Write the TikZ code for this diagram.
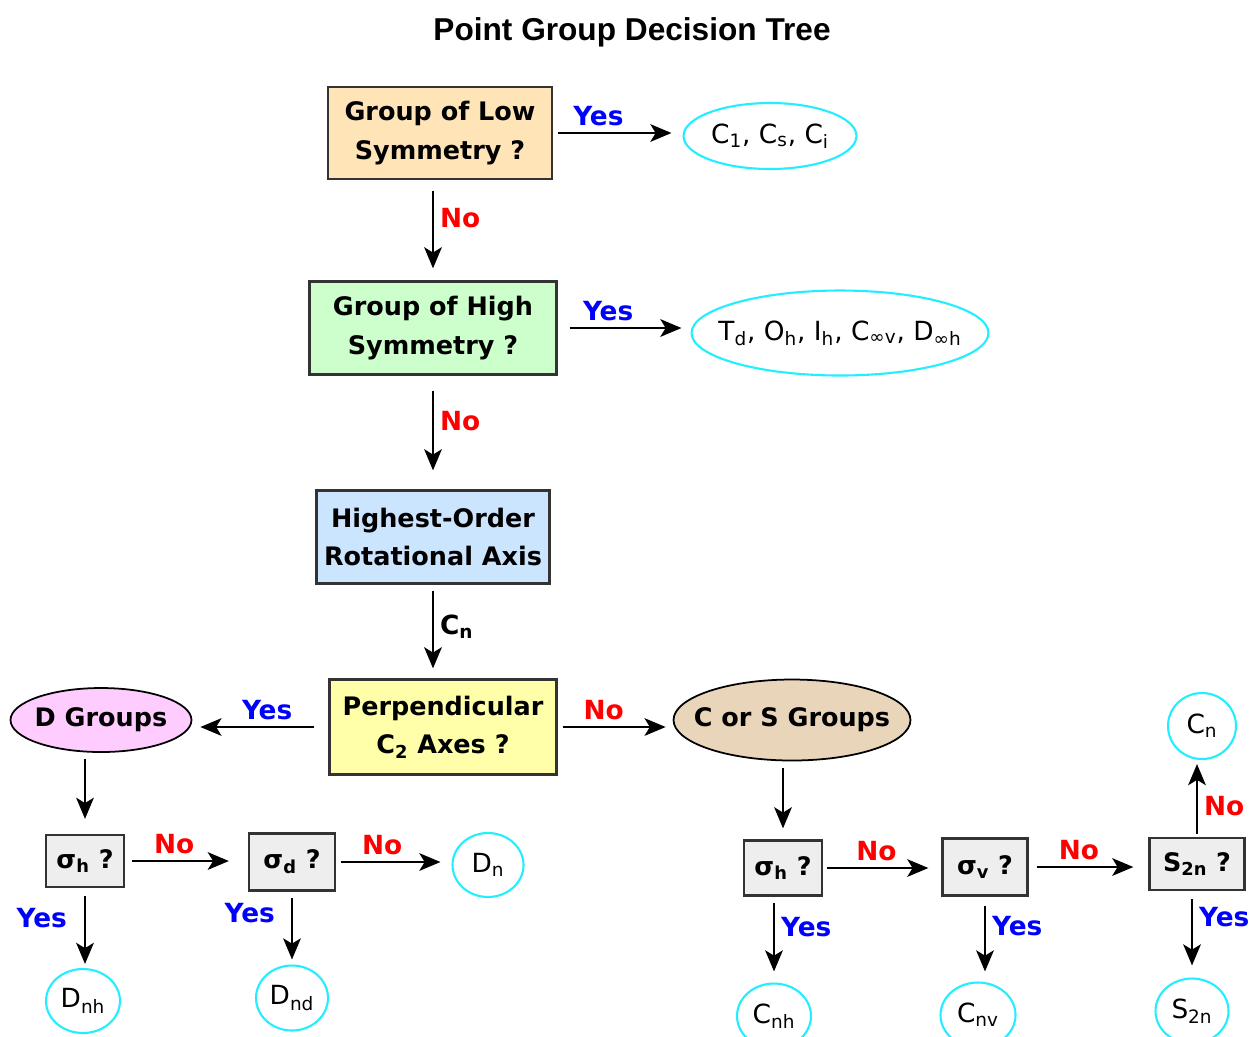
\documentclass[tikz,border=0pt]{standalone}
\usepackage{fontspec}
\setmainfont{DejaVu Sans}
\newfontfamily\titlefont{Liberation Sans}
\usetikzlibrary{arrows.meta,shapes.geometric}
\definecolor{lowfill}{HTML}{FFE4B8}
\definecolor{highfill}{HTML}{CCFFCC}
\definecolor{axisfill}{HTML}{CCE5FF}
\definecolor{perpfill}{HTML}{FFFFAA}
\definecolor{dfill}{HTML}{FFCCFF}
\definecolor{csfill}{HTML}{E8D5BA}
\definecolor{qfill}{HTML}{EEEEEE}
\definecolor{rescol}{HTML}{22EEFF}
\newcommand{\lo}[1]{\textsubscript{#1}}

\begin{document}
\begin{tikzpicture}[x=0.02cm,y=-0.02cm,
  qbox/.style={draw=black!80,line width=1.3pt,align=center,inner sep=0pt,
    font=\fontsize{14.5}{22}\selectfont\bfseries},
  tight/.style={execute at begin node={\hbox to 0pt\bgroup\hss},
    execute at end node={\hss\egroup}},
  res/.style={ellipse,tight,draw=rescol,line width=1.2pt,inner sep=0pt,
    font=\fontsize{15}{18}\selectfont},
  grp/.style={ellipse,tight,draw=black,line width=1pt,inner sep=0pt,
    font=\fontsize{14.5}{18}\selectfont\bfseries},
  arr/.style={-{Stealth[length=12pt,width=10pt,inset=3pt]},line width=1.4pt},
  yes/.style={text=blue,font=\fontsize{15}{18}\selectfont\bfseries},
  no/.style={text=red,font=\fontsize{15}{18}\selectfont\bfseries}]
\useasboundingbox (0,0) rectangle (1256,1036);

% title
\node (title) at (632,32) {\titlefont\fontsize{18}{20}\selectfont\bfseries Point Group Decision Tree};

% main column
\node[qbox,fill=lowfill,minimum width=4.48cm,minimum height=1.84cm] (low) at (440,133) {Group of Low\\Symmetry ?};
\node[qbox,fill=highfill,minimum width=4.94cm,minimum height=1.86cm] (high) at (433,328) {Group of High\\Symmetry ?};
\node[qbox,fill=axisfill,minimum width=4.66cm,minimum height=1.86cm] (axis) at (433,537) {Highest-Order\\Rotational Axis};
\node[qbox,fill=perpfill,minimum width=4.54cm,minimum height=1.9cm] (perp) at (443,727) {Perpendicular\\C\lo{2} Axes ?};

\node[res,minimum width=3.46cm,minimum height=1.32cm] (lowres) at (770,136) {C\lo{1}, C\lo{s}, C\lo{i}};
\node[res,minimum width=5.94cm,minimum height=1.7cm] (highres) at (840,333) {T\lo{d}, O\lo{h}, I\lo{h}, C\lo{∞v}, D\lo{∞h}};

\draw[arr,shorten <=0.1cm,shorten >=0.22cm] (low.east) -- (low.east -| lowres.west) node[yes,pos=0.35,above] {Yes};
\draw[arr,shorten <=0.24cm,shorten >=0.18cm] (high.east) -- (high.east -| highres.west) node[yes,pos=0.38,above] {Yes};
\draw[arr,shorten <=0.22cm,shorten >=0.24cm] (high.north |- low.south) -- (high.north) node[no,pos=0.38,right] {No};
\draw[arr,shorten <=0.3cm,shorten >=0.38cm] (high.south) -- (high.south |- axis.north) node[no,pos=0.4,right] {No};
\draw[arr,shorten <=0.12cm,shorten >=0.2cm] (axis.south) -- (axis.south |- perp.north) node[pos=0.45,right,font=\fontsize{15}{18}\selectfont\bfseries] {C\lo{n}};

% D groups
\node[grp,fill=dfill,minimum width=3.62cm,minimum height=1.28cm] (dgrp) at (101,720) {D Groups};
\node[qbox,fill=qfill,minimum width=1.56cm,minimum height=1.04cm] (dsh) at (85,861) {σ\lo{h} ?};
\node[qbox,fill=qfill,minimum width=1.72cm,minimum height=1.14cm] (dsd) at (292,862) {σ\lo{d} ?};
\node[res,minimum width=1.42cm,minimum height=1.28cm] (dn) at (488,865) {D\lo{n}};
\node[res,minimum width=1.48cm,minimum height=1.28cm] (dnh) at (83,1001) {D\lo{nh}};
\node[res,minimum width=1.44cm,minimum height=1.3cm] (dnd) at (292,998) {D\lo{nd}};

\draw[arr,shorten <=0.28cm,shorten >=0.16cm] (perp.west) -- (perp.west -| dgrp.east) node[yes,pos=0.45,above] {Yes};
\draw[arr,shorten <=0.12cm,shorten >=0.3cm] (dsh.north |- dgrp.south) -- (dsh.north);
\draw[arr,shorten <=0.14cm,shorten >=0.38cm] (dsh.east) -- (dsh.east -| dsd.west) node[no,pos=0.4,above] {No};
\draw[arr,shorten <=0.1cm,shorten >=0.22cm] (dsd.east) -- (dsd.east -| dn.west) node[no,pos=0.4,above] {No};
\draw[arr,shorten <=0.16cm,shorten >=0.08cm] (dsh.south) -- (dsh.south |- dnh.north) node[yes,pos=0.38,left,xshift=-0.22cm] {Yes};
\draw[arr,shorten <=0.12cm,shorten >=0.1cm] (dsd.south) -- (dsd.south |- dnd.north) node[yes,pos=0.3,left,xshift=-0.2cm] {Yes};

% C or S groups
\node[grp,fill=csfill,minimum width=4.74cm,minimum height=1.62cm] (csgrp) at (792,720) {C or S Groups};
\node[qbox,fill=qfill,minimum width=1.56cm,minimum height=1.1cm] (csh) at (783,868) {σ\lo{h} ?};
\node[qbox,fill=qfill,minimum width=1.7cm,minimum height=1.14cm] (csv) at (985,867) {σ\lo{v} ?};
\node[qbox,fill=qfill,minimum width=1.9cm,minimum height=1.04cm] (cs2n) at (1197,864) {S\lo{2n} ?};
\node[res,minimum width=1.36cm,minimum height=1.32cm] (cn) at (1202,726) {C\lo{n}};
\node[res,minimum width=1.48cm,minimum height=1.3cm] (cnh) at (774,1016) {C\lo{nh}};
\node[res,minimum width=1.5cm,minimum height=1.3cm] (cnv) at (978,1015) {C\lo{nv}};
\node[res,minimum width=1.46cm,minimum height=1.3cm] (s2n) at (1192,1011) {S\lo{2n}};

\draw[arr,shorten <=0.1cm,shorten >=0.14cm] (perp.east) -- (perp.east -| csgrp.west) node[no,pos=0.4,above] {No};
\draw[arr,shorten <=0.14cm,shorten >=0.22cm] (csgrp.south -| csh.north) -- (csh.north);
\draw[arr,shorten <=0.08cm,shorten >=0.26cm] (csh.east) -- (csh.east -| csv.west) node[no,pos=0.45,above] {No};
\draw[arr,shorten <=0.16cm,shorten >=0.3cm] (csv.east) -- (csv.east -| cs2n.west) node[no,pos=0.42,above] {No};
\draw[arr,shorten <=0.06cm,shorten >=0.08cm] (cs2n.north) -- (cs2n.north |- cn.south) node[no,pos=0.4,right] {No};
\draw[arr,shorten <=0.12cm,shorten >=0.22cm] (cnh.north |- csh.south) -- (cnh.north) node[yes,pos=0.35,right] {Yes};
\draw[arr,shorten <=0.18cm,shorten >=0.2cm] (csv.south) -- (csv.south |- cnv.north) node[yes,pos=0.35,right] {Yes};
\draw[arr,shorten <=0.16cm,shorten >=0.24cm] (s2n.north |- cs2n.south) -- (s2n.north) node[yes,pos=0.3,right] {Yes};
\end{tikzpicture}
\end{document}
